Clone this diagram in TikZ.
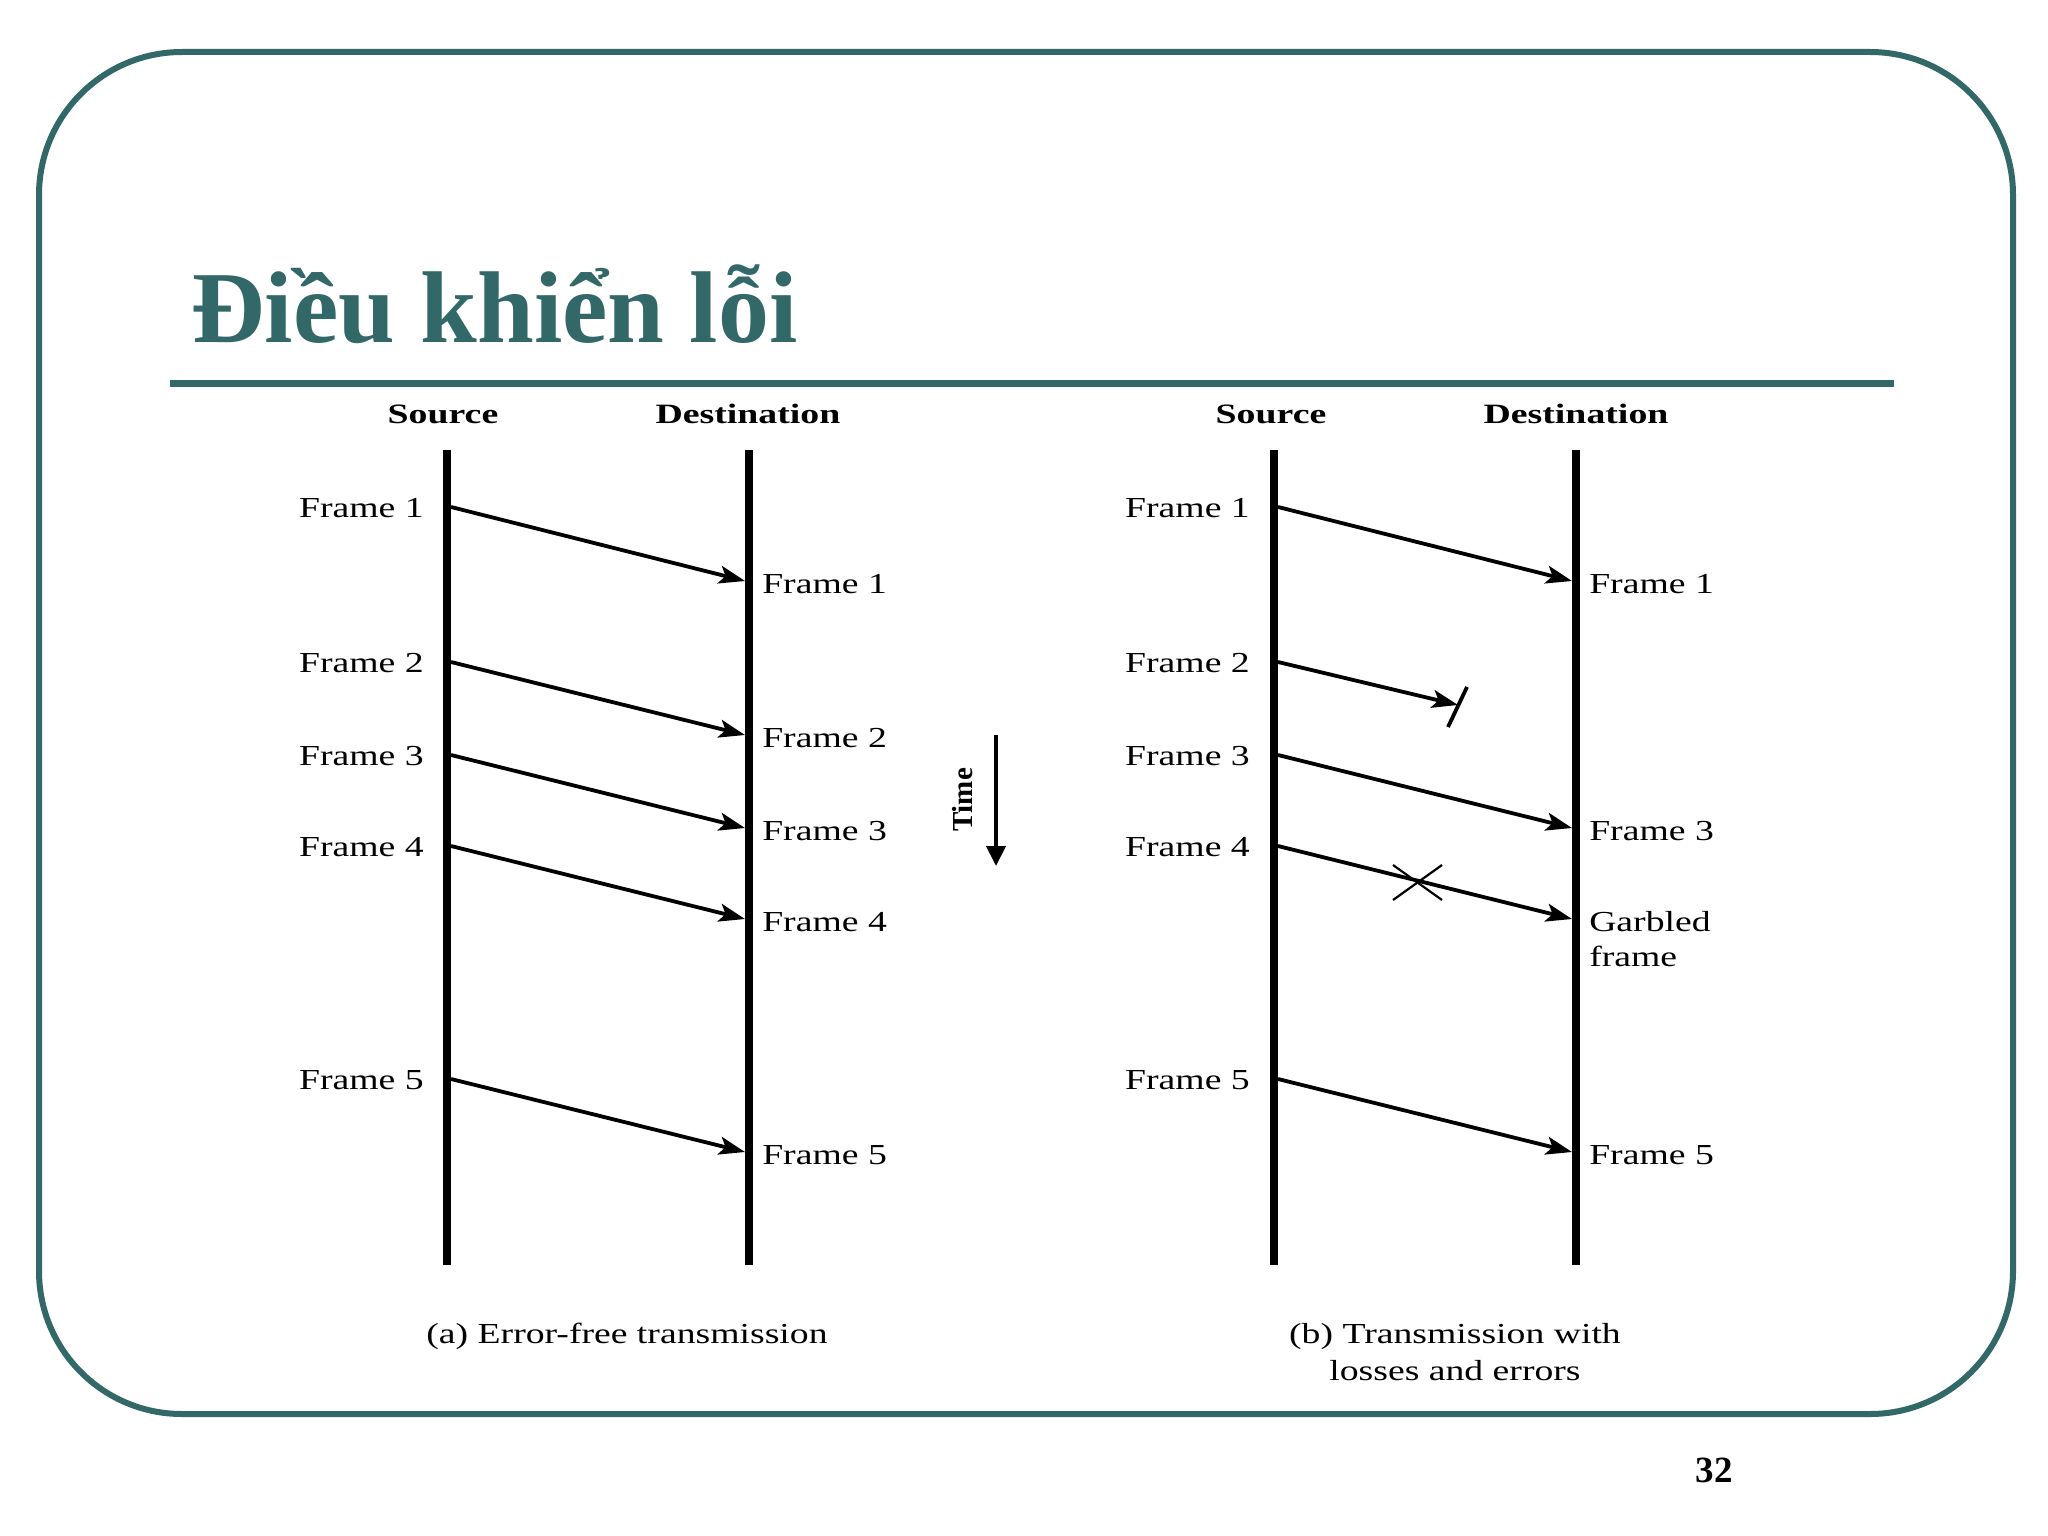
\documentclass[tikz,border=0pt]{standalone}
\usepackage{fontspec}
\setmainfont{Liberation Serif}
\usetikzlibrary{arrows.meta}
\definecolor{teal1}{RGB}{50,104,104}
\begin{document}
\begin{tikzpicture}[x=1pt,y=-1pt,
  lifeline/.style={line width=8pt},
  msg/.style={line width=3.8pt,-{Stealth[length=26pt,width=18pt,inset=6pt]}},
  lbl/.style={font=\fontsize{29}{34}\selectfont, xscale=1.3, inner sep=0pt},
  hdr/.style={font=\bfseries\fontsize{28}{34}\selectfont, xscale=1.35, inner sep=0pt},
  lblL/.style={lbl, anchor=base east},
  lblR/.style={lbl, anchor=base west},
]
\useasboundingbox (0,0) rectangle (2048,1536);
\fill[white] (0,0) rectangle (2048,1536);
% frame
\draw[teal1, line width=6pt, rounded corners=143pt] (39,52) rectangle (2013,1414);
% title
\node[anchor=base west, inner sep=0pt, text=teal1, font=\bfseries\fontsize{102}{120}\selectfont] (title) at (191,342) {Điều khiển lỗi};
\draw[teal1, line width=7pt] (170,383) -- (1894,383);
% headers
\node[hdr, anchor=base] (hSa) at (443,423) {Source};
\node[hdr, anchor=base] (hDa) at (748,423) {Destination};
\node[hdr, anchor=base] (hSb) at (1271,423) {Source};
\node[hdr, anchor=base] (hDb) at (1576,423) {Destination};
% lifelines
\coordinate (sAt) at (447,450); \coordinate (sAb) at (447,1265);
\coordinate (dAt) at (749,450); \coordinate (dAb) at (749,1265);
\coordinate (sBt) at (1274,450); \coordinate (sBb) at (1274,1265);
\coordinate (dBt) at (1576,450); \coordinate (dBb) at (1576,1265);
\draw[lifeline] (sAt) -- (sAb);
\draw[lifeline] (dAt) -- (dAb);
\draw[lifeline] (sBt) -- (sBb);
\draw[lifeline] (dBt) -- (dBb);
% panel (a) messages
\foreach \i/\ys/\ye in {1/507/581, 2/662/735, 3/755/828, 4/846/919, 5/1079/1152}{
  \coordinate (a\i s) at (451,\ys);
  \coordinate (a\i e) at (745,\ye);
  \draw[msg] (a\i s) -- (a\i e);
  \node[lblL] (la\i) at (424,\ys+10) {Frame \i};
  \node[lblR] (ra\i) at (762,\ye+12) {Frame \i};
}
% panel (b) messages
\foreach \i/\ys/\ye in {1/507/581, 3/755/828, 4/846/919, 5/1079/1152}{
  \coordinate (b\i s) at (1278,\ys);
  \coordinate (b\i e) at (1572,\ye);
  \draw[msg] (b\i s) -- (b\i e);
}
\foreach \i/\ys in {1/507, 2/662, 3/755, 4/846, 5/1079}{
  \node[lblL] (lb\i) at (1250,\ys+10) {Frame \i};
}
\node[lblR] (rb1) at (1589,593) {Frame 1};
\node[lblR] (rb3) at (1589,840) {Frame 3};
\node[lblR] (rb4) at (1589,931) {Garbled};
\node[lblR] (rb4b) at (1589,966) {frame};
\node[lblR] (rb5) at (1589,1164) {Frame 5};
% lost frame 2
\coordinate (b2s) at (1278,662);
\coordinate (b2e) at (1458,705);
\draw[msg] (b2s) -- (b2e);
\coordinate (cutA) at (1448,727); \coordinate (cutB) at (1467,687);
\draw[line width=3.8pt] (cutA) -- (cutB);
% garbled X
\coordinate (xA) at (1393,865); \coordinate (xB) at (1442,900);
\coordinate (xC) at (1393,900); \coordinate (xD) at (1442,865);
\draw[line width=2.2pt] (xA) -- (xB);
\draw[line width=2.2pt] (xC) -- (xD);
% time arrow
\coordinate (tTop) at (996,735); \coordinate (tBot) at (996,866);
\draw[line width=4pt, -{Triangle[length=20pt,width=19pt]}] (tTop) -- (tBot);
\node[rotate=90, inner sep=0pt, font=\bfseries\fontsize{29}{30}\selectfont] (time) at (963,800) {Time};
% captions
\node[lbl, anchor=base] (capA) at (627,1343) {(a) Error-free transmission};
\node[lbl, anchor=base] (capB1) at (1455,1343) {(b) Transmission with};
\node[lbl, anchor=base] (capB2) at (1455,1380) {losses and errors};
% page number
\node[anchor=base, inner sep=0pt, font=\bfseries\fontsize{37}{40}\selectfont] (pg) at (1714,1482) {32};
\end{tikzpicture}
\end{document}
